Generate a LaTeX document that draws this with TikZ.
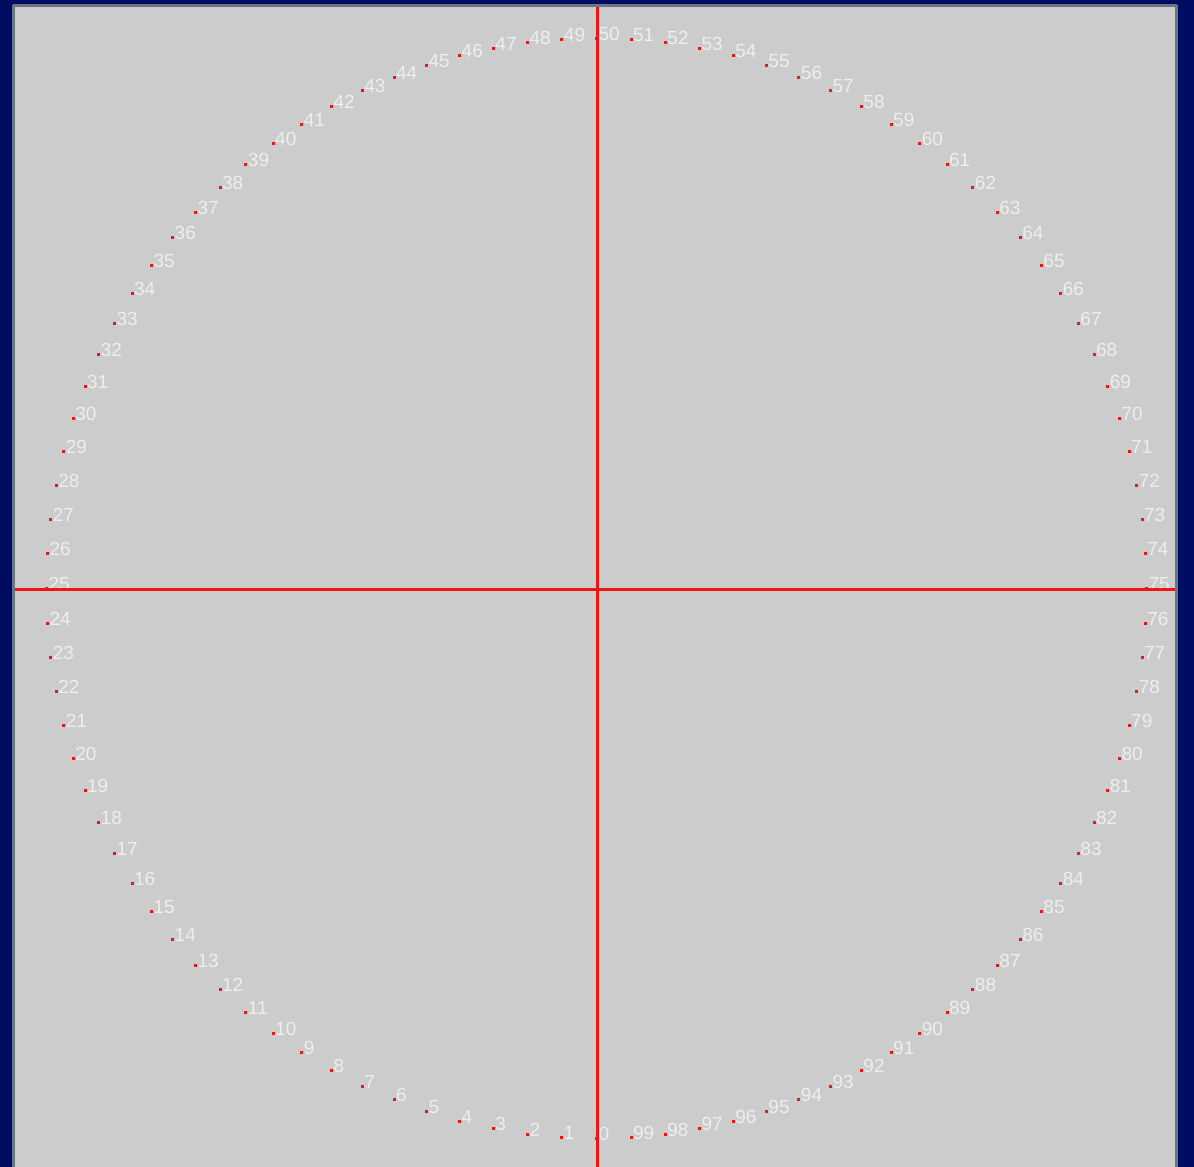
\documentclass[tikz,border=0pt]{standalone}
\usepackage{fontspec}
\setmainfont{Liberation Sans}
\definecolor{bgnavy}{RGB}{0,12,98}
\definecolor{panelgray}{RGB}{204,204,204}
\definecolor{paneledge}{RGB}{104,118,134}
\definecolor{axisred}{RGB}{240,20,20}
\definecolor{lblwhite}{RGB}{238,238,238}
\tikzset{
  dot/.style={rectangle, fill=axisred, inner sep=0pt, outer sep=0pt, minimum size=3bp},
  lbl/.style={anchor=base west, inner sep=0pt, outer sep=0pt, text=lblwhite,
    font=\fontsize{19bp}{22bp}\selectfont},
}

\begin{document}
\begin{tikzpicture}[x=1bp, y=1bp, line cap=round, line join=round]
  \useasboundingbox (0,0) rectangle (1194,-1167);
  \path[fill=bgnavy] (0,0) rectangle (1194,-1167);
  \path[fill=panelgray, draw=paneledge, line width=3bp] (13.5,-5.5) rectangle (1176.5,-1180);
  \coordinate (axl) at (15,-589);
  \coordinate (axr) at (1175,-589);
  \coordinate (axt) at (597,-7);
  \coordinate (axb) at (597,-1167);
  \begin{scope}[shift={(596.5,-588.5)}]
    \foreach \i in {0,...,99} {
      \node[dot] (p\i) at ({270-3.6*\i}:550) {};
      \node[lbl] (l\i) at ([shift={(2,-2)}]p\i.center) {\i};
    }
  \end{scope}
  \path[draw=axisred, line width=3bp, line cap=butt] (axl) -- (axr);
  \path[draw=axisred, line width=3bp, line cap=butt] (axt) -- (axb);
\end{tikzpicture}
\end{document}
